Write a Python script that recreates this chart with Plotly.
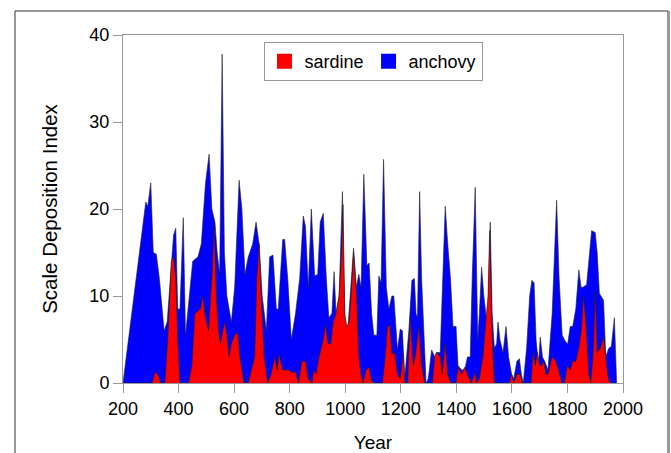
import plotly.graph_objects as go

# ---- data ----
anchovy_year = [200, 282, 289, 300, 309, 320, 331, 348, 359, 374, 382, 390, 397, 405, 417, 425,
                451, 470, 482, 497, 510, 520, 531, 539, 548, 557, 565, 574, 590, 602, 618, 628,
                639, 651, 667, 679, 690, 701, 716, 728, 740, 752, 759, 775, 782, 793, 806, 821,
                836, 849, 857, 867, 878, 890, 901, 910, 921, 932, 941, 952, 960, 967, 978, 990,
                999, 1009, 1021, 1030, 1040, 1049, 1057, 1067, 1078, 1086, 1095, 1103, 1114, 1121,
                1129, 1138, 1148, 1157, 1168, 1175, 1188, 1198, 1206, 1214, 1229, 1240, 1249, 1255,
                1260, 1268, 1275, 1283, 1291, 1299, 1311, 1322, 1329, 1342, 1352, 1360, 1369, 1379,
                1388, 1399, 1406, 1419, 1430, 1440, 1450, 1457, 1468, 1477, 1483, 1491, 1499, 1508,
                1514, 1522, 1529, 1537, 1545, 1550, 1557, 1568, 1579, 1588, 1599, 1607, 1618, 1627,
                1634, 1641, 1653, 1664, 1672, 1680, 1687, 1696, 1702, 1710, 1718, 1730, 1745, 1761,
                1770, 1781, 1792, 1801, 1810, 1819, 1830, 1841, 1849, 1856, 1869, 1878, 1887, 1900,
                1907, 1915, 1930, 1938, 1949, 1958, 1969, 1977]
anchovy_val = [0, 20.8, 20.3, 23, 15, 14.8, 12, 6, 7, 14, 17, 17.8, 8.5, 8.5, 19, 5.5,
               14, 14.5, 16, 23, 26.3, 20, 18.5, 15, 12.5, 37.8, 15, 10, 7, 11, 23.3, 20,
               12.5, 14.5, 16, 18.5, 16, 10, 6, 14.5, 14.7, 8.5, 8.5, 16.5, 16.5, 12, 5, 8,
               12, 19.2, 18, 11, 20, 12.3, 12.5, 18.5, 19.5, 12, 7.5, 8, 12.8, 8, 10, 22,
               7, 6, 12, 15.5, 11, 12.5, 11, 24, 13.5, 13.8, 8, 5.5, 5.5, 12.3,
               11.5, 25.7, 11, 8.5, 10, 10, 3.8, 6.2, 6, 0.5, 6, 11.8, 12, 8,
               7.5, 22, 12, 5, 0, 0.5, 3.8, 3, 3.5, 3.5, 12, 20.3, 16, 12,
               6.5, 6.5, 2, 1.5, 1.5, 3, 3, 12, 22.5, 5, 8, 13.3, 10, 7.5,
               8, 18.5, 8, 4, 4.5, 7, 5, 3.5, 6.5, 3, 1, 0.5, 2.5, 2.8,
               1, 0, 4, 10, 11.8, 11.5, 5, 2, 5.3, 3, 2.5, 1.5, 8, 21,
               12, 5.5, 4.8, 4.5, 6.5, 6.5, 8.5, 13, 11, 11, 11.3, 14, 17.5, 17.3,
               15, 10.3, 9.5, 3, 4, 4.2, 7.5, 0]

sardine_year = [200, 305, 316, 328, 336, 351, 363, 374, 382, 390, 397, 405, 436, 448, 459, 470,
                479, 487, 497, 508, 520, 528, 536, 544, 551, 559, 567, 574, 582, 590, 602, 613,
                621, 628, 636, 651, 667, 674, 682, 690, 697, 708, 721, 733, 747, 755, 762, 775,
                786, 799, 806, 821, 832, 844, 857, 867, 880, 886, 895, 906, 921, 929, 938, 948,
                957, 967, 978, 987, 992, 998, 1006, 1014, 1021, 1030, 1041, 1049, 1057, 1064, 1075,
                1086, 1095, 1106, 1134, 1144, 1152, 1160, 1168, 1178, 1188, 1198, 1209, 1215, 1225,
                1234, 1245, 1252, 1265, 1275, 1286, 1314, 1322, 1329, 1342, 1349, 1360, 1369, 1380,
                1399, 1406, 1419, 1430, 1440, 1453, 1468, 1472, 1483, 1496, 1506, 1514, 1520, 1529,
                1537, 1591, 1599, 1607, 1618, 1630, 1638, 1669, 1676, 1684, 1692, 1700, 1707, 1715,
                1722, 1730, 1745, 1758, 1768, 1780, 1789, 1800, 1810, 1819, 1830, 1841, 1850, 1858,
                1866, 1877, 1884, 1894, 1900, 1907, 1918, 1930, 1943, 1949, 1958]
sardine_val = [0, 0, 1.3, 0.8, 0, 0, 6, 14, 14.5, 12, 5, 0, 0, 2, 8, 8.3,
               8.5, 10, 7.5, 6, 12, 18, 10, 6, 4.5, 6, 7, 5.5, 3, 4.5, 5.5, 5.8,
               3, 1.5, 0, 0, 2, 3, 12, 16, 10, 3, 0, 1, 3, 1.5, 3.3, 1.5,
               1.5, 1.5, 1.2, 1.3, 0, 2.5, 2.5, 0.5, 0, 1.5, 1, 3, 5, 6.7, 4.5, 4.5,
               7, 8, 10, 15, 20.5, 8, 6.5, 7, 10, 15, 10, 3, 1, 0, 1.5,
               1.8, 0.2, 0, 0, 3, 6.5, 6.6, 3.3, 3.5, 1, 0.5, 3.5, 0, 0,
               7.5, 2, 3, 6.5, 2, 0, 0, 3, 3.5, 3, 1, 4.5, 1, 0,
               0, 1.8, 1, 1.8, 1, 0, 1.2, 0, 0.5, 3, 7, 10, 17.5, 5,
               0, 0, 1, 0, 1, 1, 0, 0, 3.5, 2, 3.5, 2, 2, 2.5,
               1, 1, 3, 2.5, 1.5, 0, 0, 2, 1.5, 2.5, 2.5, 4, 6, 10,
               7, 1, 0, 4, 10.5, 3.5, 4, 5.2, 1.5, 0.3, 0]

x_ticks = [200, 400, 600, 800, 1000, 1200, 1400, 1600, 1800, 2000]
y_ticks = [0, 10, 20, 30, 40]

FONT = "Liberation Sans, Arial, sans-serif"

fig = go.Figure()
fig.add_trace(go.Scatter(x=anchovy_year, y=anchovy_val, fill="tozeroy", mode="lines",
                         line=dict(color="#222222", width=0.6), fillcolor="#0000ff",
                         showlegend=False, hoverinfo="skip"))
fig.add_trace(go.Scatter(x=sardine_year, y=sardine_val, fill="tozeroy", mode="lines",
                         line=dict(color="#222222", width=0.6), fillcolor="#ff0000",
                         showlegend=False, hoverinfo="skip"))
# legend entries
fig.add_trace(go.Scatter(x=[None], y=[None], mode="markers", name="sardine",
                         marker=dict(symbol="square", size=15, color="#ff0000")))
fig.add_trace(go.Scatter(x=[None], y=[None], mode="markers", name="anchovy",
                         marker=dict(symbol="square", size=15, color="#0000ff")))

axis_common = dict(showline=True, linecolor="#9a9a9a", linewidth=1, mirror=True,
                   ticks="outside", ticklen=9, tickcolor="#9a9a9a", tickwidth=1,
                   showgrid=False, zeroline=False, automargin=False,
                   tickfont=dict(family=FONT, size=18, color="black"))

fig.update_layout(
    width=671, height=453,
    margin=dict(l=123, r=48, t=35, b=70),
    paper_bgcolor="white", plot_bgcolor="white",
    font=dict(family=FONT, size=18, color="black"),
    xaxis=dict(range=[200, 2000], tickvals=x_ticks, **axis_common,
               title=dict(text="Year", standoff=24, font=dict(family=FONT, size=19))),
    yaxis=dict(range=[0, 40], tickvals=y_ticks, **axis_common,
               title=dict(text="Scale Deposition Index", standoff=26, font=dict(family=FONT, size=20.5))),
    legend=dict(orientation="h", x=0.5, y=0.98, xanchor="center", yanchor="top",
                bordercolor="#9a9a9a", borderwidth=1, bgcolor="white",
                font=dict(family=FONT, size=18), itemwidth=30, tracegroupgap=0),
    shapes=[
        dict(type="rect", xref="paper", yref="paper", x0=-0.216, x1=1.09, y0=-0.4, y1=1.069,
             line=dict(color="#333333", width=1), layer="below"),
        dict(type="line", xref="paper", yref="paper", x0=1.092, x1=1.092, y0=-0.4, y1=1.069,
             line=dict(color="#9a9a9a", width=2)),
    ],
)

fig.write_html("out.html")
